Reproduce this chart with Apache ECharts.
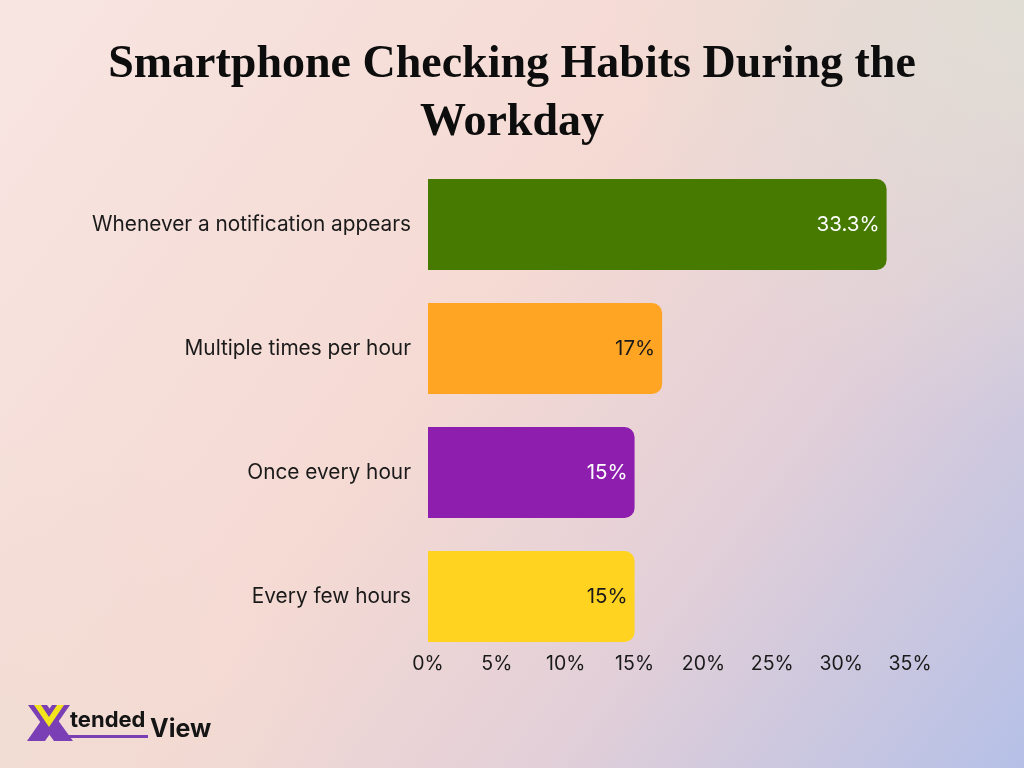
<!DOCTYPE html>
<html>
<head>
<meta charset="utf-8">
<script src="https://cdn.jsdelivr.net/npm/echarts@6/dist/echarts.min.js"></script>
<style>html,body{margin:0;padding:0;}#c{width:1024px;height:768px;}</style>
</head>
<body>
<div id="c"></div>
<script>
const categories = ["Whenever a notification appears", "Multiple times per hour", "Once every hour", "Every few hours"];
const values = [33.3, 17, 15, 15];
const valueLabels = ["33.3%", "17%", "15%", "15%"];
const barColors = ["#467a00", "#ffa523", "#8e1fae", "#ffd320"];
const labelColors = ["#ffffff", "#1a1a1a", "#ffffff", "#1a1a1a"];
const xTicks = [0, 5, 10, 15, 20, 25, 30, 35];

const chart = echarts.init(document.getElementById('c'));
const option = {
  backgroundColor: {
    type: 'linear', x: 0, y: 0, x2: 1, y2: 1,
    colorStops: [
      {offset: 0, color: '#f8e5e2'},
      {offset: 0.45, color: '#f5dad3'},
      {offset: 0.7, color: '#e2cfd8'},
      {offset: 1, color: '#b5c0e7'}
    ]
  },
  graphic: [
    {type: 'rect', z: -10, silent: true, shape: {x: 0, y: 0, width: 1024, height: 768},
     style: {fill: {type: 'radial', x: 1, y: 0, r: 0.55, colorStops: [
       {offset: 0, color: 'rgba(224,222,212,0.95)'}, {offset: 1, color: 'rgba(224,222,212,0)'}]}}},
    {type: 'rect', z: -10, silent: true, shape: {x: 0, y: 0, width: 1024, height: 768},
     style: {fill: {type: 'radial', x: 0, y: 1, r: 0.45, colorStops: [
       {offset: 0, color: 'rgba(240,220,210,0.8)'}, {offset: 1, color: 'rgba(240,220,210,0)'}]}}},
    {type: 'text', left: 'center', top: 36, style: {
      text: 'Smartphone Checking Habits During the\nWorkday',
      font: 'bold 46px "Liberation Serif", serif', fill: '#0d0d0d', textAlign: 'center', lineHeight: 58}},
    // logo
    {type: 'polygon', shape: {points: [[28,705],[47,705],[73,741],[54,741]]}, style: {fill: '#7b3fb5'}},
    {type: 'polygon', shape: {points: [[52,705],[70,705],[45,741],[27,741]]}, style: {fill: '#7b3fb5'}},
    {type: 'polygon', shape: {points: [[34,705],[41,705],[49,717],[57,705],[64,705],[49,727]]}, style: {fill: '#f2e51c'}},
    {type: 'rect', shape: {x: 60, y: 735, width: 88, height: 3}, style: {fill: '#7b3fb5'}},
    {type: 'text', x: 70, y: 720, style: {text: 'tended', font: 'bold 22px Inter, sans-serif', fill: '#151515', textVerticalAlign: 'middle'}},
    {type: 'text', x: 150, y: 729, style: {text: 'View', font: 'bold 25px Inter, sans-serif', fill: '#151515', textVerticalAlign: 'middle'}}
  ],
  grid: {left: 428, right: 114, top: 162.5, bottom: 109.5, containLabel: false},
  xAxis: {
    type: 'value', min: 0, max: 35, interval: 5,
    axisLine: {show: false}, axisTick: {show: false}, splitLine: {show: false},
    axisLabel: {formatter: v => xTicks.includes(v) ? v + '%' : '', color: '#1a1a1a', fontSize: 19.5, fontFamily: 'Inter', margin: -4}
  },
  yAxis: {
    type: 'category', data: categories, inverse: true,
    axisLine: {show: false}, axisTick: {show: false},
    axisLabel: {color: '#1a1a1a', fontSize: 20.8, fontFamily: 'Inter', margin: 17}
  },
  series: [{
    type: 'bar', barCategoryGap: '26.6%',
    data: values.map((v, i) => ({value: v, itemStyle: {color: barColors[i]},
      label: {color: labelColors[i], formatter: valueLabels[i]}})),
    itemStyle: {borderRadius: [0, 10, 10, 0]},
    label: {show: true, position: 'insideRight', distance: 7, fontSize: 20.5, fontFamily: 'Inter'}
  }]
};
chart.setOption(option);
</script>
</body>
</html>
